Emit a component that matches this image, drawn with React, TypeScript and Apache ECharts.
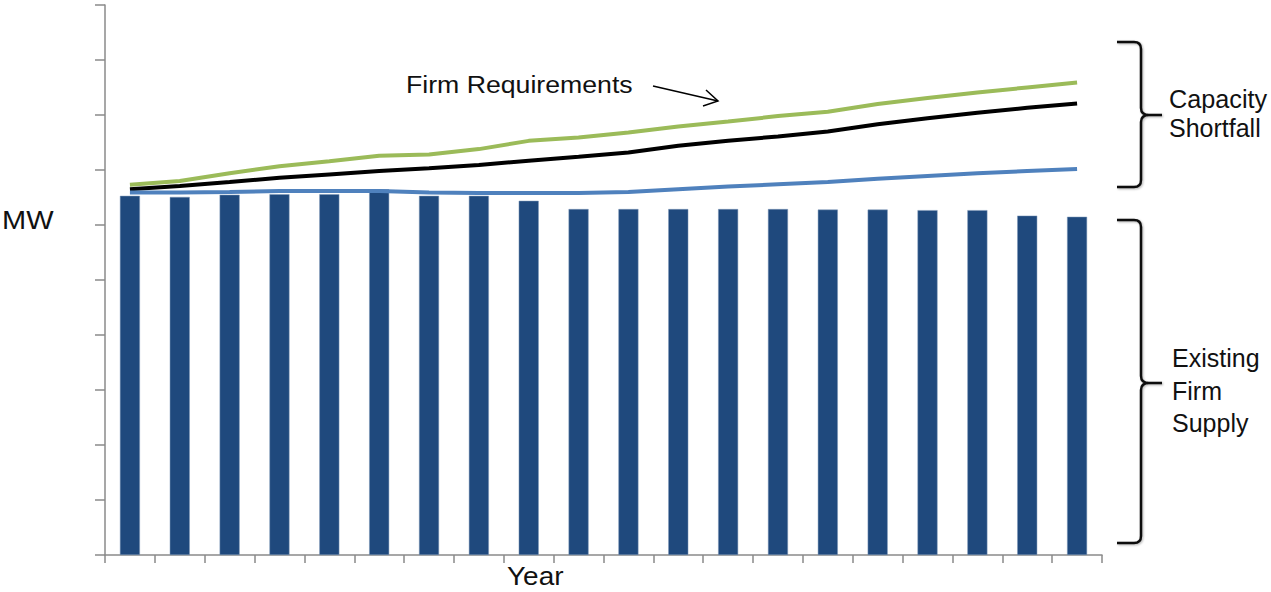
import React, { useEffect, useRef } from "react";
import * as echarts from "echarts";

const categories = ["1", "2", "3", "4", "5", "6", "7", "8", "9", "10", "11", "12", "13", "14", "15", "16", "17", "18", "19", "20"];
const existingSupply = [65.3, 65.1, 65.5, 65.6, 65.6, 66.5, 65.3, 65.3, 64.4, 62.9, 62.9, 62.9, 62.9, 62.9, 62.8, 62.8, 62.7, 62.7, 61.7, 61.5];
const greenLine = [67.3, 68.0, 69.4, 70.7, 71.6, 72.6, 72.8, 73.8, 75.3, 75.9, 76.8, 77.9, 78.8, 79.8, 80.6, 82.0, 83.1, 84.1, 85.0, 85.9];
const blackLine = [66.5, 67.1, 67.8, 68.6, 69.2, 69.8, 70.3, 70.9, 71.7, 72.4, 73.2, 74.4, 75.3, 76.1, 77.0, 78.3, 79.4, 80.4, 81.3, 82.1];
const blueLine = [65.9, 65.9, 66.0, 66.2, 66.2, 66.2, 65.9, 65.8, 65.8, 65.8, 66.0, 66.5, 67.0, 67.4, 67.8, 68.4, 68.9, 69.4, 69.8, 70.2];

const braceTop =
  "M1117,42 L1134,42 Q1141,42 1141,49 L1141,108 Q1141,115 1149,115 L1162,115 M1149,115 Q1141,115 1141,122 L1141,180 Q1141,187 1134,187 L1117,187";
const braceBottom =
  "M1117,220 L1134,220 Q1141,220 1141,227 L1141,376 Q1141,383 1149,383 L1162,383 M1149,383 Q1141,383 1141,390 L1141,536 Q1141,543 1134,543 L1117,543";

echarts.graphic.registerShape("braceTop", echarts.graphic.extendPath(braceTop, {}));
echarts.graphic.registerShape("braceBottom", echarts.graphic.extendPath(braceBottom, {}));

const FONT = "'Liberation Sans', Arial, sans-serif";

function label(text: string, x: number, y: number, size: number, sx: number) {
  return {
    type: "text",
    x,
    y,
    scaleX: sx,
    style: {
      text,
      x: 0,
      y: 0,
      fill: "#111",
      font: `${size}px ${FONT}`,
      align: "left",
      verticalAlign: "middle",
    },
  };
}

export default function App() {
  const ref = useRef<HTMLDivElement>(null);
  useEffect(() => {
    document.body.style.margin = "0";
    const chart = echarts.init(ref.current!, null, { renderer: "svg" });
    const braceStyle = {
      fill: "none",
      stroke: "#111",
      lineWidth: 2.5,
      shadowBlur: 2,
      shadowColor: "rgba(0,0,0,0.3)",
      shadowOffsetX: 1,
      shadowOffsetY: 1,
    };
    chart.setOption({
      animation: false,
      grid: { left: 105, right: 169, top: 5, bottom: 37, containLabel: false },
      xAxis: {
        type: "category",
        data: categories,
        boundaryGap: true,
        axisLine: { show: true, lineStyle: { color: "#8a8a8a", width: 1.5 } },
        axisTick: { show: true, interval: 0, length: 8, lineStyle: { color: "#8a8a8a", width: 1.5 } },
        axisLabel: { show: false },
        splitLine: { show: false },
      },
      yAxis: {
        type: "value",
        min: 0,
        max: 100,
        interval: 10,
        axisLine: { show: true, lineStyle: { color: "#8a8a8a", width: 1.5 } },
        axisTick: { show: true, length: 10, lineStyle: { color: "#8a8a8a", width: 1.5 } },
        axisLabel: { show: false },
        splitLine: { show: false },
      },
      series: [
        {
          type: "bar",
          data: existingSupply,
          barWidth: 20,
          itemStyle: { color: "#1F497D", borderColor: "#7f98b8", borderWidth: 0.5 },
          z: 1,
        },
        {
          type: "line",
          data: greenLine,
          symbol: "none",
          lineStyle: { color: "#9BBB59", width: 4 },
          z: 2,
        },
        {
          type: "line",
          data: blackLine,
          symbol: "none",
          lineStyle: { color: "#000000", width: 4 },
          z: 3,
        },
        {
          type: "line",
          data: blueLine,
          symbol: "none",
          lineStyle: { color: "#4F81BD", width: 4 },
          z: 4,
        },
      ],
      graphic: [
        { type: "braceTop", x: 0, y: 0, style: braceStyle },
        { type: "braceBottom", x: 0, y: 0, style: braceStyle },
        {
          type: "polyline",
          shape: { points: [[653, 86], [718, 101]] },
          style: { stroke: "#000", lineWidth: 1.5, fill: "none" },
        },
        {
          type: "polyline",
          shape: { points: [[706, 90], [718, 101], [703, 106]] },
          style: { stroke: "#000", lineWidth: 1.5, fill: "none" },
        },
        label("MW", 2, 220, 25, 1.16),
        label("Year", 507, 577, 25, 1.12),
        label("Firm Requirements", 406, 85, 23, 1.16),
        label("Capacity", 1169, 99, 25, 1.01),
        label("Shortfall", 1169, 128, 25, 1.0),
        label("Existing", 1172, 358, 25, 1.0),
        label("Firm", 1172, 391, 25, 1.0),
        label("Supply", 1172, 423, 25, 1.0),
      ],
    });
    return () => chart.dispose();
  }, []);
  return <div ref={ref} style={{ width: 1271, height: 592 }} />;
}
